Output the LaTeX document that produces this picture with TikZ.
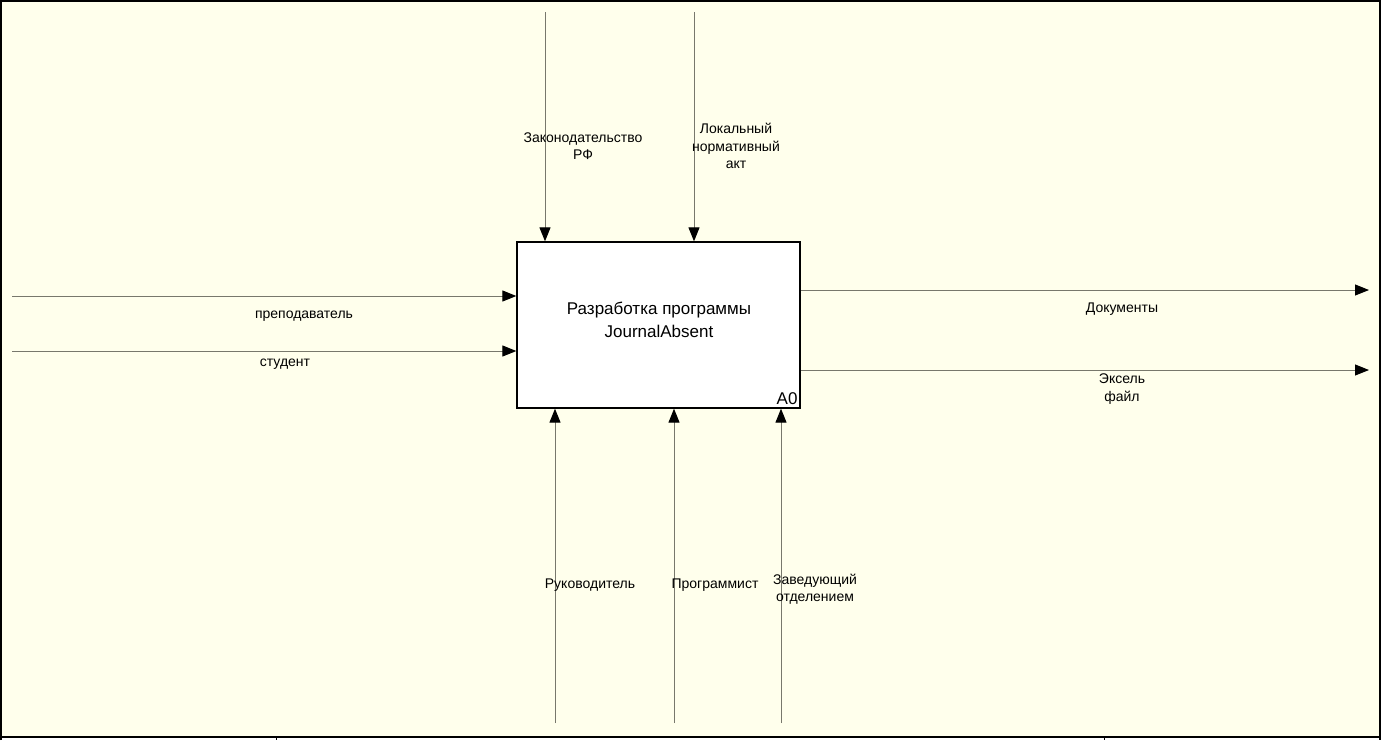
\documentclass[tikz,border=0pt]{standalone}
\usepackage{fontspec}
\setmainfont{Liberation Sans}
\usetikzlibrary{arrows.meta,positioning}
\definecolor{sheet}{RGB}{255,255,236}
\definecolor{wire}{RGB}{120,120,108}
\tikzset{
  flow/.style={wire,line width=1pt,-{Triangle[length=14pt,width=11pt,black]}},
  procbox/.style={draw,fill=white,line width=1.3pt,minimum width=283pt,minimum height=166pt},
  lbl/.style={align=center,font=\fontsize{14}{17.5}\selectfont,inner sep=0pt}
}
\begin{document}
\begin{tikzpicture}[x=1pt,y=-1pt]
\useasboundingbox (0,0) rectangle (1381,740);
% Sheet and frame
\fill[white] (0,0) rectangle (1381,740);
\fill[sheet] (1,1) rectangle (1380,737);
\draw[line width=1.3pt] (1,740) -- (1,1) -- (1380,1) -- (1380,740);
\draw[line width=1.3pt] (0,737) -- (1381,737);
\draw[line width=1pt] (276,737) -- (276,740);
\draw[line width=1pt] (1104,737) -- (1104,740);
% Activity
\node[procbox] (proc) at (658.5,325) {};
\node[align=center,font=\fontsize{17}{23}\selectfont] (title) at (659,320) {Разработка программы\\JournalAbsent};
\node[font=\fontsize{17}{19}\selectfont,anchor=south east,inner xsep=3pt,inner ysep=4pt] (num) at (proc.south east) {A0};
% Controls
\coordinate (ctl1) at (545,12);
\coordinate (ctl2) at (694,12);
\draw[flow] (ctl1) -- (ctl1 |- proc.north);
\draw[flow] (ctl2) -- (ctl2 |- proc.north);
\node[lbl] (law) at (583,146) {Законодательство\\РФ};
\node[lbl] (act) at (736,146) {Локальный\\нормативный\\акт};
% Inputs
\coordinate (in1) at (12,296);
\coordinate (in2) at (12,351);
\draw[flow] (in1) -- (in1 -| proc.west);
\draw[flow] (in2) -- (in2 -| proc.west);
\node[lbl] (teacher) at (304,316) {преподаватель};
\node[lbl] (student) at (285,364) {студент};
% Outputs
\coordinate (out1) at (1369,290);
\coordinate (out2) at (1369,370);
\draw[flow] (out1 -| proc.east) -- (out1);
\draw[flow] (out2 -| proc.east) -- (out2);
\node[lbl] (docs) at (1122,309) {Документы};
\node[lbl] (excel) at (1122,389) {Эксель\\файл};
% Mechanisms
\coordinate (mec1) at (555,723);
\coordinate (mec2) at (674,723);
\coordinate (mec3) at (781,723);
\draw[flow] (mec1) -- (mec1 |- proc.south);
\draw[flow] (mec2) -- (mec2 |- proc.south);
\draw[flow] (mec3) -- (mec3 |- proc.south);
\node[lbl] (head) at (590,585) {Руководитель};
\node[lbl] (coder) at (715,585) {Программист};
\node[lbl] (chief) at (815,589) {Заведующий\\отделением};
\end{tikzpicture}
\end{document}
